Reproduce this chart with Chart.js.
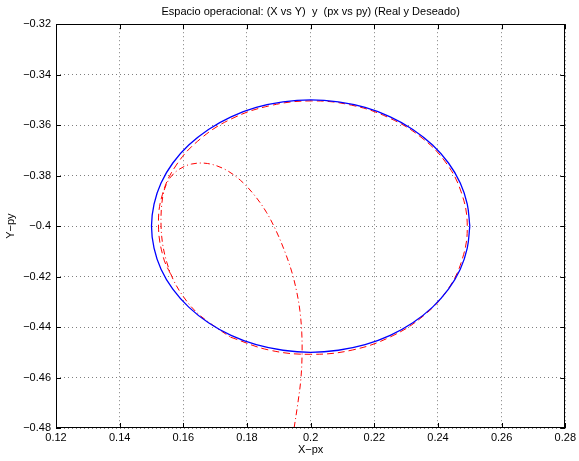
<!DOCTYPE html>
<html>
<head>
<meta charset="utf-8">
<script src="https://cdn.jsdelivr.net/npm/chart.js@4/dist/chart.umd.min.js"></script>
<style>html,body{margin:0;padding:0;background:#fff}</style>
</head>
<body>
<canvas id="chart" width="579" height="461"></canvas>
<script>
// desired trajectory (blue circle)
const desiredX = [0.25, 0.2492, 0.2470, 0.2433, 0.2383, 0.2321, 0.225, 0.2171, 0.2087, 0.2,
    0.1913, 0.1829, 0.175, 0.1679, 0.1617, 0.1567, 0.1530, 0.1508, 0.15,
    0.1508, 0.1530, 0.1567, 0.1617, 0.1679, 0.175, 0.1829, 0.1913, 0.2,
    0.2087, 0.2171, 0.225, 0.2321, 0.2383, 0.2433, 0.2470, 0.2492, 0.25];
const desiredY = [-0.4, -0.3913, -0.3829, -0.375, -0.3679, -0.3617, -0.3567, -0.3530, -0.3508, -0.35,
    -0.3508, -0.3530, -0.3567, -0.3617, -0.3679, -0.375, -0.3829, -0.3913, -0.4,
    -0.4087, -0.4171, -0.425, -0.4321, -0.4383, -0.4433, -0.4470, -0.4492, -0.45,
    -0.4492, -0.4470, -0.4433, -0.4383, -0.4321, -0.425, -0.4171, -0.4087, -0.4];

// real trajectory, approach part (dash-dot)
const approachX = [0.1948, 0.1959, 0.1969, 0.1973, 0.1972, 0.1966, 0.1955, 0.1939, 0.1917, 0.1892,
    0.1861, 0.1823, 0.1779, 0.1729, 0.1676, 0.1626, 0.1588, 0.1560, 0.1541, 0.1532,
    0.1530, 0.1535, 0.1548, 0.1569, 0.1601, 0.1641, 0.1692, 0.1748];
const approachY = [-0.48, -0.4709, -0.4610, -0.4511, -0.4420, -0.4333, -0.4253, -0.4174, -0.4095, -0.4020,
    -0.3945, -0.3877, -0.3818, -0.3774, -0.3752, -0.3754, -0.3774, -0.3806, -0.3853, -0.3917,
    -0.3996, -0.4071, -0.4143, -0.4214, -0.4281, -0.4341, -0.4392, -0.4440];

// real trajectory, loop part (dashed)
const loopX = [0.1748, 0.1869, 0.2000, 0.2131, 0.2252, 0.2355, 0.2432, 0.2477, 0.2492, 0.2475,
    0.2428, 0.2350, 0.2248, 0.2129, 0.2000, 0.1872, 0.1753, 0.1653, 0.1578, 0.1534,
    0.1522, 0.1537, 0.1564];
const loopY = [-0.4440, -0.4491, -0.4508, -0.4491, -0.4438, -0.4355, -0.4249, -0.4128, -0.4000, -0.3873,
    -0.3754, -0.3651, -0.3572, -0.3521, -0.3504, -0.3523, -0.3574, -0.3655, -0.3758, -0.3876,
    -0.4000, -0.4123, -0.4201];

const xRange = [0.12, 0.28];
const yRange = [-0.48, -0.32];

function toPoints(xs, ys) {
    return xs.map((x, i) => ({ x: x, y: ys[i] }));
}

function fmt(v) {
    return String(parseFloat(v.toFixed(2))).replace('-', '\u2212');
}

const font = { family: "'Liberation Sans', Arial, sans-serif", size: 11 };

// matlab style box with inward ticks
const boxTicks = {
    id: 'boxTicks',
    afterDatasetsDraw(chart) {
        const { ctx, chartArea: a, scales: { x, y } } = chart;
        ctx.save();
        ctx.strokeStyle = '#000';
        ctx.lineWidth = 1;
        ctx.beginPath();
        x.ticks.forEach(t => {
            const p = Math.round(x.getPixelForValue(t.value)) + 0.5;
            ctx.moveTo(p, a.bottom); ctx.lineTo(p, a.bottom - 5);
            ctx.moveTo(p, a.top); ctx.lineTo(p, a.top + 5);
        });
        y.ticks.forEach(t => {
            const p = Math.round(y.getPixelForValue(t.value)) + 0.5;
            ctx.moveTo(a.left, p); ctx.lineTo(a.left + 5, p);
            ctx.moveTo(a.right, p); ctx.lineTo(a.right - 5, p);
        });
        ctx.stroke();
        ctx.strokeRect(Math.round(a.left) + 0.5, Math.round(a.top) + 0.5,
            Math.round(a.width) - 1, Math.round(a.height) - 1);
        ctx.restore();
    }
};

new Chart(document.getElementById('chart'), {
    type: 'scatter',
    data: {
        datasets: [{
            label: 'Deseado',
            data: toPoints(desiredX, desiredY),
            showLine: true,
            borderColor: '#0000ff',
            borderWidth: 1.3,
            tension: 0.4,
            pointRadius: 0
        }, {
            label: 'Real',
            data: toPoints(approachX, approachY),
            showLine: true,
            borderColor: '#ff0000',
            borderWidth: 1,
            borderDash: [6, 3, 1, 3],
            tension: 0.35,
            pointRadius: 0
        }, {
            label: 'Real 2',
            data: toPoints(loopX, loopY),
            showLine: true,
            borderColor: '#ff0000',
            borderWidth: 1,
            borderDash: [7, 4],
            tension: 0.4,
            pointRadius: 0
        }]
    },
    options: {
        responsive: false,
        animation: false,
        layout: { padding: { left: 0, right: 12, top: 0, bottom: 0 } },
        plugins: {
            legend: { display: false },
            tooltip: { enabled: false },
            title: {
                display: true,
                fullSize: false,
                text: 'Espacio operacional: (X vs Y)  y  (px vs py) (Real y Deseado)',
                color: '#000',
                font: { ...font, weight: 'normal' },
                padding: { top: 5, bottom: 6 }
            }
        },
        scales: {
            x: {
                type: 'linear',
                min: xRange[0],
                max: xRange[1],
                afterFit: s => { s.height = 33; },
                ticks: { stepSize: 0.02, color: '#000', font: font, padding: 3, callback: v => fmt(v), maxRotation: 0 },
                grid: { color: 'rgba(0,0,0,0.5)', lineWidth: 1, drawTicks: false },
                border: { display: false, dash: [1, 3] },
                title: { display: true, text: 'X\u2212px', color: '#000', font: font, padding: { top: 2, bottom: 4 } }
            },
            y: {
                type: 'linear',
                min: yRange[0],
                max: yRange[1],
                afterFit: s => { s.width = 56; },
                ticks: { stepSize: 0.02, color: '#000', font: font, padding: 5, callback: v => fmt(v) },
                grid: { color: 'rgba(0,0,0,0.5)', lineWidth: 1, drawTicks: false },
                border: { display: false, dash: [1, 3] },
                title: { display: true, text: 'Y\u2212py', color: '#000', font: font, padding: { top: 4, bottom: 4 } }
            }
        }
    },
    plugins: [boxTicks]
});
</script>
</body>
</html>
